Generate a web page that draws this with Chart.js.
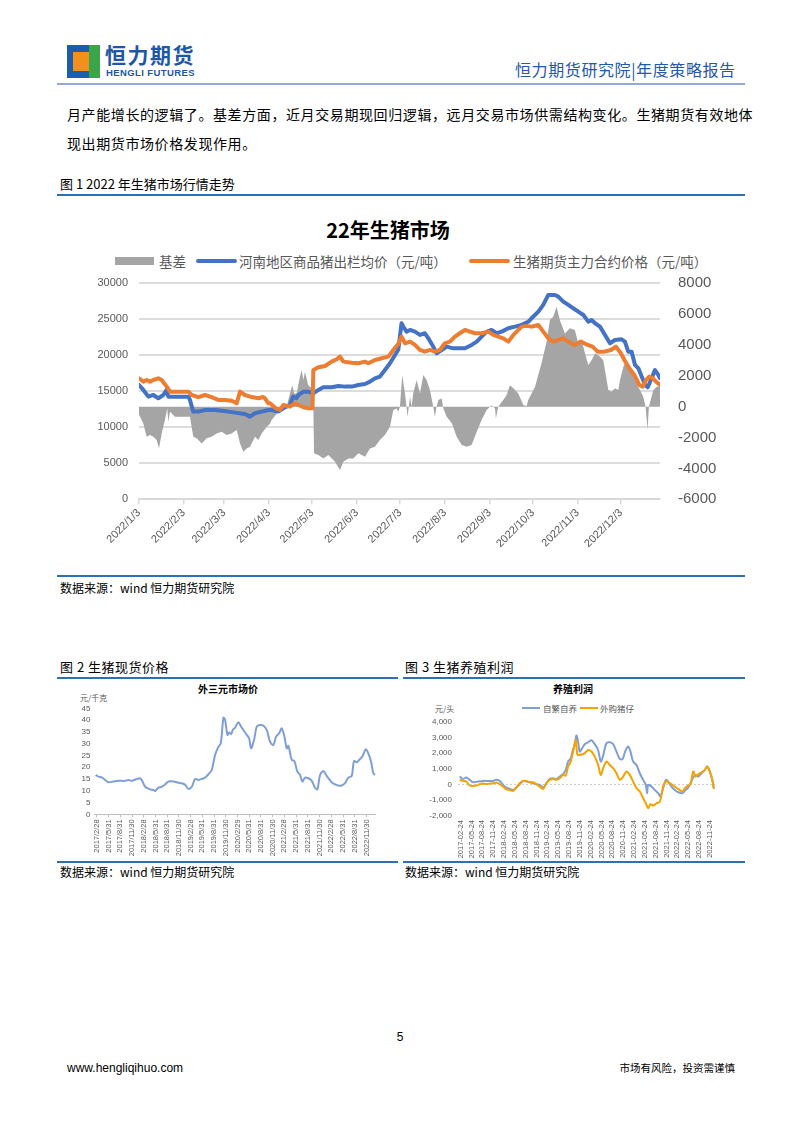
<!DOCTYPE html>
<html><head><meta charset="utf-8">
<script src="https://cdn.jsdelivr.net/npm/chart.js@4.4.1/dist/chart.umd.min.js"></script>
<style>
html,body{margin:0;padding:0;background:#fff;}
#page{position:relative;width:802px;height:1133px;overflow:hidden;font-family:'Noto Sans CJK SC','Noto Sans',sans-serif;color:#000;}
.a{position:absolute;white-space:nowrap;}
.r{position:absolute;}
canvas{position:absolute;}
</style></head><body><div id="page">

<!-- header -->
<div class="r" style="left:67px;top:45px;width:33px;height:33px;background:#1e5daa"></div>
<div class="r" style="left:89px;top:45px;width:11px;height:33px;background:#3ba54a"></div>
<div class="r" style="left:73px;top:52px;width:16px;height:19px;background:#f39019"></div>
<div class="a" style="left:105px;top:42px;font-size:21px;line-height:24px;font-weight:700;color:#1d57a5;letter-spacing:1.5px">恒力期货</div>
<div class="a" style="left:106px;top:67px;font-size:9.5px;line-height:11px;font-weight:700;color:#1d57a5;font-family:'Liberation Sans',sans-serif;letter-spacing:0.4px">HENGLI FUTURES</div>
<div class="a" style="left:515px;top:58px;font-size:16px;line-height:22px;color:#2458a8;letter-spacing:0.6px">恒力期货研究院|年度策略报告</div>
<div class="r" style="left:57px;top:83px;width:688px;height:2px;background:#97a8d6"></div>

<!-- body text -->
<div class="a" style="left:67px;top:104px;font-size:14px;line-height:20px;letter-spacing:0.6px">月产能增长的逻辑了。基差方面，近月交易期现回归逻辑，远月交易市场供需结构变化。生猪期货有效地体</div>
<div class="a" style="left:67px;top:133px;font-size:14px;line-height:20px;letter-spacing:0.6px">现出期货市场价格发现作用。</div>

<div class="a" style="left:60px;top:175px;font-size:13px;line-height:18px">图 1 2022 年生猪市场行情走势</div>
<div class="r" style="left:57px;top:194px;width:688px;height:2px;background:#2f6fb8"></div>

<!-- chart 1 title & legend -->
<div class="a" style="left:388px;top:218px;transform:translateX(-50%);font-size:20px;line-height:24px;font-weight:700;color:#000">22年生猪市场</div>
<div class="r" style="left:115px;top:257px;width:39px;height:8px;background:#a5a5a5"></div>
<div class="a" style="left:159px;top:252px;font-size:13.5px;line-height:18px;color:#595959">基差</div>
<div class="r" style="left:196px;top:259px;width:41px;height:4px;border-radius:2px;background:#4472c4"></div>
<div class="a" style="left:239px;top:252px;font-size:13.5px;line-height:18px;color:#595959">河南地区商品猪出栏均价（元/吨）</div>
<div class="r" style="left:469px;top:259px;width:41px;height:4px;border-radius:2px;background:#ed7d31"></div>
<div class="a" style="left:513px;top:252px;font-size:13.5px;line-height:18px;color:#595959">生猪期货主力合约价格（元/吨）</div>

<canvas id="c1" width="688" height="374" style="left:57px;top:198px;width:688px;height:374px"></canvas>

<div class="r" style="left:57px;top:575px;width:688px;height:2px;background:#2f6fb8"></div>
<div class="a" style="left:60px;top:580px;font-size:12px;line-height:16px">数据来源：wind 恒力期货研究院</div>

<!-- chart 2 -->
<div class="a" style="left:60px;top:658px;font-size:13px;line-height:18px;letter-spacing:0.5px">图 2 生猪现货价格</div>
<div class="r" style="left:57px;top:677px;width:341px;height:2px;background:#2f6fb8"></div>
<div class="a" style="left:228px;top:682px;transform:translateX(-50%);font-size:10px;line-height:13px;font-weight:700">外三元市场价</div>
<div class="a" style="left:80px;top:692px;font-size:8px;line-height:11px;color:#595959">元/千克</div>
<canvas id="c2" width="341" height="180" style="left:57px;top:680px;width:341px;height:180px"></canvas>
<div class="r" style="left:57px;top:861px;width:341px;height:2px;background:#2f6fb8"></div>
<div class="a" style="left:60px;top:864px;font-size:12px;line-height:16px">数据来源：wind 恒力期货研究院</div>

<!-- chart 3 -->
<div class="a" style="left:405px;top:658px;font-size:13px;line-height:18px;letter-spacing:0.5px">图 3 生猪养殖利润</div>
<div class="r" style="left:403px;top:677px;width:342px;height:2px;background:#2f6fb8"></div>
<div class="a" style="left:573px;top:682px;transform:translateX(-50%);font-size:10px;line-height:13px;font-weight:700">养殖利润</div>
<div class="a" style="left:435px;top:703px;font-size:8px;line-height:11px;color:#595959">元/头</div>
<div class="r" style="left:522px;top:707px;width:18px;height:2px;background:#7f9fd6"></div>
<div class="a" style="left:543px;top:702px;font-size:8.5px;line-height:12px;color:#595959">自繁自养</div>
<div class="r" style="left:580px;top:707px;width:18px;height:2px;background:#f5a300"></div>
<div class="a" style="left:600px;top:702px;font-size:8.5px;line-height:12px;color:#595959">外购猪仔</div>
<canvas id="c3" width="342" height="150" style="left:403px;top:710px;width:342px;height:150px"></canvas>
<div class="r" style="left:403px;top:861px;width:342px;height:2px;background:#2f6fb8"></div>
<div class="a" style="left:405px;top:864px;font-size:12px;line-height:16px">数据来源：wind 恒力期货研究院</div>

<!-- footer -->
<div class="a" style="left:400px;top:1029px;transform:translateX(-50%);font-size:12px;line-height:16px;font-family:'Liberation Sans',sans-serif">5</div>
<div class="a" style="left:67px;top:1060px;font-size:12px;line-height:16px;font-family:'Liberation Sans',sans-serif">www.hengliqihuo.com</div>
<div class="a" style="right:67px;top:1061px;font-size:10.5px;line-height:14px">市场有风险，投资需谨慎</div>

</div>
<script>
// ===== Chart 1: 22年生猪市场 (x = days since 2022/1/3) =====
const monthDays   = [0, 31, 59, 90, 120, 151, 181, 212, 243, 273, 304, 334];
const monthLabels = ['2022/1/3','2022/2/3','2022/3/3','2022/4/3','2022/5/3','2022/6/3','2022/7/3','2022/8/3','2022/9/3','2022/10/3','2022/11/3','2022/12/3'];

const spotDays  = [0,3,6.5,9.9,13.4,16.9,19.2,20.3,27.3,34.2,35.3,37.6,41.1,45.7,52.7,61.9,66.5,73.4,76.9,80.4,85,89.6,91.9,96.5,100,104.5,106.8,109,110.4,114,117.3,120.8,124.3,127.7,133.5,138.1,142.7,147.4,152,156.6,160,163.5,166.9,170.4,173.9,177.4,179.7,181.9,183.1,185.4,187.8,191.2,194.7,198.1,200.5,203.9,206.2,209.7,213.2,217.8,222.4,225.9,230.5,234,237.4,241,244.3,247.8,251.3,255.9,260.5,265.1,267.4,270,272,276.7,280.1,283.6,288.2,290.5,294,297.5,300.9,304.4,307.9,311.3,313.6,316,319.4,322.9,326.3,329.8,334.4,336.7,339,341.3,343.7,346,348.3,350.7,352.5,355.2,357.5,359.8,361];
const spotPrice = [15880,15190,14260,14490,14030,14490,15190,14260,14260,14260,13800,12180,12180,12410,12410,12180,12040,11850,11480,11950,12180,12400,12410,12180,12640,13100,14260,14030,14490,14950,14950,14720,15190,15560,15560,15740,15650,15650,15880,16020,16340,16800,17040,17960,18890,20050,20800,24450,23980,23290,23520,23290,22830,23060,22360,21200,20280,20740,21200,20970,20970,20970,21440,21900,22600,23290,23520,23060,23290,23750,23980,24210,24450,24700,25140,26070,27000,28380,28380,28150,27460,27000,26530,26070,25600,24680,24910,24450,23980,22830,21670,22130,22220,21900,20510,20510,18660,18190,17040,15880,15560,16810,17960,17270,16810];

const futDays  = [0,3,5.3,7.6,9.9,13.4,15.7,19.2,21.5,27.3,34.2,36.5,41.1,45.7,50.3,54.9,59.6,64.2,67.7,70,73.4,78.1,82.7,86.1,87.3,89.6,90.8,94.8,97.7,100,104.5,107.9,110.4,113.9,117.3,120.2,120.8,124.3,128.9,133.5,137,139.3,141.6,147.4,152,156.6,158.9,163.5,168.1,172.8,176.2,179.7,181.9,184.3,187.8,191.2,194.7,198.1,201.6,205,208.5,211.9,215.4,218.9,222.3,225.9,229.3,232.8,237.4,242,245.5,248.9,252.4,255.9,259.4,261.7,265.1,268.6,272,276.7,280.1,283.6,287,290.5,294,297.5,301.8,306.2,310.9,314.3,317.8,322.4,327,330.4,333.9,336.3,339.7,343.2,346.7,349,351.3,353.6,355.9,358.3,361];
const futPrice = [16810,16340,16570,16340,16570,16810,16570,15650,14950,14950,14950,14490,14200,14490,14200,13800,13800,13700,13330,14950,14490,14200,14030,14200,14030,13330,13330,12640,12410,13100,12870,13330,13100,12780,12640,12640,17960,18330,18520,19120,19450,19820,19120,18980,18890,19120,18890,19350,19590,19820,20740,21600,22600,21670,21900,21440,20740,20510,20740,20510,20740,21670,21900,22600,23060,23520,23290,23060,23060,23290,22830,22600,22360,21900,22830,23290,23980,24090,23980,24210,23290,22360,21900,22130,22360,21900,21440,21900,21440,21200,20510,20510,20740,21200,20280,19350,18190,17270,15880,15650,16570,17040,16810,16340,15880];

const basisDays = [0,3,5.3,7.6,9.9,12.2,13.9,15.7,18,19.6,20.3,21.5,24.9,34.2,35.3,37.6,40,43.4,46.9,50.3,53.8,57.3,60.7,64.2,67.7,70,72.3,74.6,76.9,80.4,82.7,85,88.5,90.8,91.9,96.5,100,102.3,104.6,106.2,107.6,109.2,111.5,112.7,113.9,115,117.3,119.6,120.6,121.3,124.3,127.7,131.2,135.8,139.3,141.6,145.1,148.5,152,156.6,160,163.5,166.9,170.4,173.9,176.2,178.5,179.7,180.8,182.4,184.3,186.1,187.8,188.9,190,192.4,194.7,197,199.3,201.6,203.9,205,206.2,207.4,209.7,210.9,213.2,216.9,220.1,223.6,227,230.5,234,237.4,240.9,244.3,246.7,247.3,248.9,252.4,254.7,257,259.4,262.8,266.3,268.6,269.7,274.4,278.9,282.4,284.7,287,289.3,291.6,295.1,298.6,302,304.4,306.7,309,311.3,313.6,316,318.2,321.7,325.2,327.5,329.8,332.1,333.3,335.6,337.9,340.2,343.7,347.1,349.4,351,352.4,353.3,356.4,358.7,361];
const basisVals = [-500,-1080,-1940,-1840,-1940,-2160,-2700,-1730,-860,-110,-970,-320,-650,-650,-650,-1940,-2050,-2380,-2050,-1940,-1730,-1620,-1840,-1730,-1510,-2380,-2920,-2700,-2590,-1940,-2160,-1730,-1300,-1100,-860,-320,-220,0,860,1400,860,860,1940,2380,1730,2270,1400,1190,1100,-3020,-3130,-3350,-3130,-3560,-4100,-3560,-3350,-3350,-3020,-3240,-2700,-2590,-2160,-1840,-1300,-220,-110,-320,0,2050,860,-650,650,0,860,1730,860,2050,1730,1080,0,-650,0,430,540,-110,-650,-1080,-1940,-2480,-2590,-2480,-1620,-860,-220,100,-110,-760,0,430,750,1400,1190,860,110,40,430,1300,2810,4210,5620,5830,6480,5620,4750,5080,4970,4100,4320,3460,2700,3020,3460,3350,3020,1080,970,1190,1080,1730,2590,3020,2380,1730,1080,650,0,-1510,0,1080,1300,1300];

// ===== Chart 2: 外三元市场价 (x = months since 2017/2/28) =====
const hogTickMonths = [0,3,6,9,12,15,18,21,24,27,30,33,36,39,42,45,48,51,54,57,60,63,66,69];
const hogTickLabels = ['2017/2/28','2017/5/31','2017/8/31','2017/11/30','2018/2/28','2018/5/31','2018/8/31','2018/11/30','2019/2/28','2019/5/31','2019/8/31','2019/11/30','2020/2/29','2020/5/31','2020/8/31','2020/11/30','2021/2/28','2021/5/31','2021/8/31','2021/11/30','2022/2/28','2022/5/31','2022/8/31','2022/11/30'];
const hogMonths = [-0.3,0.43,1.28,2.13,2.98,4.26,5.54,7.25,8.1,8.95,10.23,11.08,11.68,12.36,13.64,14.49,14.92,15.77,16.62,17.48,18.33,19.6,20.89,21.74,22.59,23.44,24.3,25.15,26,26.85,27.7,28.56,29.41,30.26,31.12,31.71,32.4,32.82,33.42,33.84,34.36,34.78,35.38,36.23,36.91,37.51,38.36,38.96,39.47,40.24,40.92,41.77,42.63,43.48,44.33,45.18,45.87,46.63,47.31,48,48.59,49.02,49.87,50.55,51.32,52,52.6,53.28,54.13,54.99,55.84,56.44,57.12,57.97,58.57,59.25,60.1,60.95,61.81,62.66,63.51,64.36,65.22,65.81,66.5,67.35,67.95,68.8,69.48,70.16,70.76,71.18];
const hogPrice  = [16.7,16.0,15.7,14.6,13.6,13.9,14.2,14.2,14.6,14.2,15.0,15.3,13.9,11.7,10.6,10.3,9.9,11.3,11.7,12.7,13.9,13.9,13.4,13.2,12.5,10.8,11.7,15.0,14.6,15.0,15.6,17.0,18.8,25.2,28.7,30.1,41.0,40.0,33.7,34.7,34.0,35.8,36.8,39.1,37.2,35.8,33.7,32.3,28.0,31.6,37.2,37.9,37.6,35.8,30.8,29.4,33.0,34.4,36.5,33.0,28.0,29.1,23.1,22.6,18.1,16.7,13.9,15.6,15.3,14.2,11.3,10.6,16.7,18.4,17.0,15.3,13.6,12.7,12.2,12.2,13.2,15.6,16.3,22.6,22.1,23.5,24.5,27.6,25.9,22.4,17.4,16.7];

// ===== Chart 3: 养殖利润 (x = months since 2017-02-24) =====
const profitTickMonths = [0,3,6,9,12,15,18,21,24,27,30,33,36,39,42,45,48,51,54,57,60,63,66,69];
const profitTickLabels = ['2017-02-24','2017-05-24','2017-08-24','2017-11-24','2018-02-24','2018-05-24','2018-08-24','2018-11-24','2019-02-24','2019-05-24','2019-08-24','2019-11-24','2020-02-24','2020-05-24','2020-08-24','2020-11-24','2021-02-24','2021-05-24','2021-08-24','2021-11-24','2022-02-24','2022-05-24','2022-08-24','2022-11-24'];
const selfMonths = [-0.28,0.65,1.57,2.49,3.42,4.8,6.19,7.57,8.96,9.88,10.8,11.73,12.65,13.57,14.5,15.42,16.34,17.27,18.19,19.11,20.04,20.96,21.88,22.81,23.73,24.65,25.58,26.5,27.42,28.35,29.09,29.73,30.47,30.93,31.58,32.04,32.5,32.96,33.7,34.35,35.27,36.2,37.12,38.04,38.78,39.43,40.35,41.27,42.2,43.12,44.04,44.78,45.52,46.35,47,47.74,48.66,49.58,50.51,51.25,51.62,51.89,52.82,53.74,54.66,55.31,56.05,56.79,57.43,58.36,59.28,60.2,61.4,62.05,62.97,63.62,64.36,65,65.74,66.67,67.59,68.24,68.97,69.62,70.08];
const selfProfit = [510,360,445,300,150,190,233,233,233,300,233,-20,-190,-275,-340,-190,20,230,190,150,85,20,-20,-190,85,360,400,360,510,660,930,1460,1670,2100,2520,3120,2730,2100,2350,2570,2690,2820,2570,2200,1460,1840,2630,2690,2570,2100,1630,1610,2100,2420,2100,1460,1250,720,300,-20,-550,-20,-130,-340,-550,-760,-230,300,190,-130,-340,-490,-550,-400,-190,85,445,615,510,720,930,1145,830,300,-230];
const buyMonths = [-0.28,0.65,1.57,2.49,3.42,4.34,5.26,6.19,7.11,8.03,8.96,9.88,10.8,11.73,12.65,13.57,14.5,15.42,16.34,17.27,18.19,19.11,20.04,20.96,21.88,22.81,23.73,24.65,25.58,26.5,27.42,28.35,29.09,29.73,30.47,31.12,31.86,32.32,32.96,33.7,34.35,35.27,36.2,37.12,38.04,38.78,39.43,40.35,41.27,42.2,43.12,44.04,44.97,45.89,46.81,47.74,48.66,49.58,50.51,51.25,51.89,52.54,53.28,54.2,55.12,56.05,56.79,57.43,58.36,59.28,60.2,61.4,62.05,62.97,63.62,64.36,65,65.74,66.67,67.59,68.24,68.97,69.62,70.08];
const buyProfit = [300,233,190,-60,-85,-60,20,60,40,60,85,125,20,-130,-300,-340,-400,-190,85,230,230,150,150,20,-130,-275,85,300,360,300,400,615,570,1145,1460,2100,2840,1890,1890,1930,2000,2200,2100,1780,1250,615,1040,1460,1250,1040,720,300,510,830,615,190,-230,-445,-870,-1190,-1510,-1250,-1340,-1190,-1080,-130,230,150,20,-130,-275,-445,-230,-60,20,830,510,660,785,930,1145,830,360,-275];

Chart.defaults.font.family = "'Liberation Sans', Arial, 'Noto Sans CJK SC', sans-serif";
Chart.defaults.animation = false;
const pts = (xs, ys) => xs.map((x, i) => ({x: x, y: ys[i]}));
const noPlug = {legend: {display: false}, tooltip: {enabled: false}};
const plain = v => String(v);

new Chart(document.getElementById('c1'), {
  type: 'line',
  data: {datasets: [
    {label: '生猪期货主力合约价格（元/吨）', data: pts(futDays, futPrice), yAxisID: 'y', borderColor: '#ed7d31', borderWidth: 4, pointRadius: 0, order: 1, borderJoinStyle: 'round', borderCapStyle: 'round', fill: false},
    {label: '河南地区商品猪出栏均价（元/吨）', data: pts(spotDays, spotPrice), yAxisID: 'y', borderColor: '#4472c4', borderWidth: 4, pointRadius: 0, order: 2, borderJoinStyle: 'round', borderCapStyle: 'round', fill: false},
    {label: '基差', data: pts(basisDays, basisVals), yAxisID: 'y1', borderWidth: 0, borderColor: 'rgba(0,0,0,0)', backgroundColor: '#a5a5a5', pointRadius: 0, order: 3, fill: 'origin'}
  ]},
  options: {
    responsive: false,
    layout: {padding: {top: 85.3, left: 0, right: 0, bottom: 0}},
    plugins: noPlug,
    scales: {
      x: {type: 'linear', min: 0, max: 361,
        afterBuildTicks: s => { s.ticks = monthDays.map(v => ({value: v})); },
        afterFit: s => { s.height = 72.7; },
        ticks: {autoSkip: false, minRotation: 45, maxRotation: 45, color: '#595959', font: {size: 11}, padding: 2, callback: (v, i) => monthLabels[i]},
        grid: {drawOnChartArea: false, drawTicks: true, tickLength: 5, color: '#d9d9d9', lineWidth: 1.5},
        border: {display: true, color: '#d9d9d9', width: 2}},
      y: {position: 'left', min: 0, max: 30000,
        ticks: {stepSize: 5000, autoSkip: false, color: '#595959', font: {size: 11}, padding: 11, callback: plain},
        grid: {color: '#dcdcdc', lineWidth: 2, drawTicks: false},
        border: {display: false},
        afterFit: s => { s.width = 82; }},
      y1: {position: 'right', min: -6000, max: 8000,
        ticks: {stepSize: 2000, autoSkip: false, color: '#595959', font: {size: 15}, padding: 18, callback: plain},
        grid: {display: false, drawTicks: false},
        border: {display: false},
        afterFit: s => { s.width = 85; }}
    }
  }
});

new Chart(document.getElementById('c2'), {
  type: 'line',
  data: {datasets: [
    {label: '外三元市场价', data: pts(hogMonths, hogPrice), borderColor: '#7f9fd6', borderWidth: 2, pointRadius: 0, tension: 0.3, fill: false}
  ]},
  options: {
    responsive: false,
    layout: {padding: {top: 28.3, left: 0, right: 22.3, bottom: 0}},
    plugins: noPlug,
    scales: {
      x: {type: 'linear', min: -0.6, max: 71.36,
        afterBuildTicks: s => { s.ticks = hogTickMonths.map(v => ({value: v})); },
        afterFit: s => { s.height = 45.7; },
        ticks: {autoSkip: false, minRotation: 90, maxRotation: 90, color: '#595959', font: {size: 7.5}, padding: 2, callback: (v, i) => hogTickLabels[i]},
        grid: {drawOnChartArea: false, drawTicks: true, tickLength: 3, color: '#bfbfbf'},
        border: {display: true, color: '#bfbfbf', width: 1}},
      y: {min: 0, max: 45,
        afterBuildTicks: s => { s.ticks = [0,5,10,15,20,25,30,35,40,45].map(v => ({value: v})); },
        ticks: {autoSkip: false, color: '#595959', font: {size: 8}, padding: 4, callback: plain},
        grid: {display: false, drawTicks: false},
        border: {display: false},
        afterFit: s => { s.width = 37.5; }}
    }
  }
});

new Chart(document.getElementById('c3'), {
  type: 'line',
  data: {datasets: [
    {label: '外购猪仔', data: pts(buyMonths, buyProfit), borderColor: '#f5a300', borderWidth: 2, pointRadius: 0, tension: 0.3, fill: false, order: 1},
    {label: '自繁自养', data: pts(selfMonths, selfProfit), borderColor: '#7f9fd6', borderWidth: 2, pointRadius: 0, tension: 0.3, fill: false, order: 2}
  ]},
  options: {
    responsive: false,
    layout: {padding: {top: 11.7, left: 0, right: 30, bottom: 0}},
    plugins: noPlug,
    scales: {
      x: {type: 'linear', min: -0.74, max: 70.4,
        afterBuildTicks: s => { s.ticks = profitTickMonths.map(v => ({value: v})); },
        afterFit: s => { s.height = 44; },
        ticks: {autoSkip: false, minRotation: 90, maxRotation: 90, color: '#595959', font: {size: 7.5}, padding: 4, callback: (v, i) => profitTickLabels[i]},
        grid: {display: false, drawTicks: false},
        border: {display: false}},
      y: {min: -2000, max: 4000,
        afterBuildTicks: s => { s.ticks = [-2000,-1000,0,1000,2000,3000,4000].map(v => ({value: v})); },
        ticks: {autoSkip: false, color: '#595959', font: {size: 8}, padding: 6, callback: v => v.toLocaleString('en-US')},
        grid: {color: c => (c.tick && c.tick.value === 0) ? '#cfcfcf' : 'rgba(0,0,0,0)', lineWidth: 1, drawTicks: false},
        border: {display: false, dash: [2, 2]},
        afterFit: s => { s.width = 55; }}
    }
  }
});
</script>
</body></html>
